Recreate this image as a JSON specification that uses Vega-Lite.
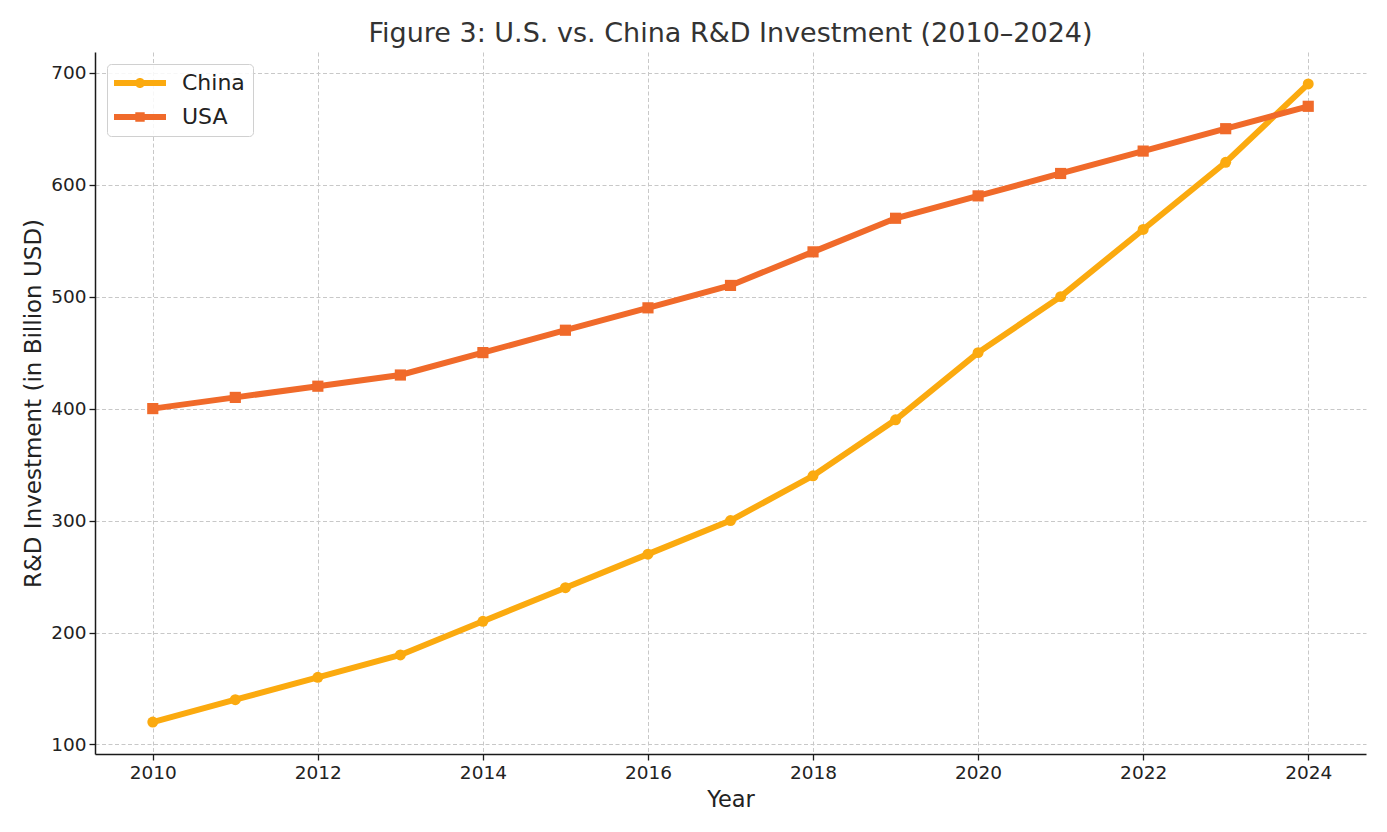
{
  "$schema": "https://vega.github.io/schema/vega-lite/v6.json",
  "autosize": {"type": "none"},
  "padding": {"left": 95, "top": 52, "right": 21, "bottom": 78},
  "width": 1271,
  "height": 702,
  "background": "white",
  "title": {
    "text": "Figure 3: U.S. vs. China R&D Investment (2010–2024)",
    "font": "DejaVu Sans",
    "fontSize": 27,
    "fontWeight": "normal",
    "color": "#333333",
    "baseline": "alphabetic",
    "offset": -17,
    "anchor": "middle"
  },
  "config": {
    "view": {"stroke": null},
    "font": "DejaVu Sans",
    "axis": {
      "domainColor": "#1a1a1a",
      "domainWidth": 1.5,
      "tickColor": "#1a1a1a",
      "tickWidth": 1.3,
      "tickSize": 6,
      "labelFont": "DejaVu Sans",
      "labelFontSize": 18.5,
      "labelColor": "#222222",
      "labelPadding": 3,
      "titleFont": "DejaVu Sans",
      "titleFontWeight": "normal",
      "titleColor": "#222222",
      "gridColor": "#c8c8c8",
      "gridWidth": 1,
      "gridDash": [4, 2.5]
    }
  },
  "data": {
    "values": [
      {"Year": 2010, "Country": "China", "Investment": 120},
      {"Year": 2011, "Country": "China", "Investment": 140},
      {"Year": 2012, "Country": "China", "Investment": 160},
      {"Year": 2013, "Country": "China", "Investment": 180},
      {"Year": 2014, "Country": "China", "Investment": 210},
      {"Year": 2015, "Country": "China", "Investment": 240},
      {"Year": 2016, "Country": "China", "Investment": 270},
      {"Year": 2017, "Country": "China", "Investment": 300},
      {"Year": 2018, "Country": "China", "Investment": 340},
      {"Year": 2019, "Country": "China", "Investment": 390},
      {"Year": 2020, "Country": "China", "Investment": 450},
      {"Year": 2021, "Country": "China", "Investment": 500},
      {"Year": 2022, "Country": "China", "Investment": 560},
      {"Year": 2023, "Country": "China", "Investment": 620},
      {"Year": 2024, "Country": "China", "Investment": 690},
      {"Year": 2010, "Country": "USA", "Investment": 400},
      {"Year": 2011, "Country": "USA", "Investment": 410},
      {"Year": 2012, "Country": "USA", "Investment": 420},
      {"Year": 2013, "Country": "USA", "Investment": 430},
      {"Year": 2014, "Country": "USA", "Investment": 450},
      {"Year": 2015, "Country": "USA", "Investment": 470},
      {"Year": 2016, "Country": "USA", "Investment": 490},
      {"Year": 2017, "Country": "USA", "Investment": 510},
      {"Year": 2018, "Country": "USA", "Investment": 540},
      {"Year": 2019, "Country": "USA", "Investment": 570},
      {"Year": 2020, "Country": "USA", "Investment": 590},
      {"Year": 2021, "Country": "USA", "Investment": 610},
      {"Year": 2022, "Country": "USA", "Investment": 630},
      {"Year": 2023, "Country": "USA", "Investment": 650},
      {"Year": 2024, "Country": "USA", "Investment": 670}
    ]
  },
  "encoding": {
    "x": {
      "field": "Year",
      "type": "quantitative",
      "scale": {"domain": [2009.3, 2024.7], "nice": false, "zero": false},
      "axis": {"values": [2010, 2012, 2014, 2016, 2018, 2020, 2022, 2024], "format": "d", "title": "Year", "titleFontSize": 22.5, "titlePadding": 7}
    },
    "y": {
      "field": "Investment",
      "type": "quantitative",
      "scale": {"domain": [91.5, 718.5], "nice": false, "zero": false},
      "axis": {"values": [100, 200, 300, 400, 500, 600, 700], "title": "R&D Investment (in Billion USD)", "titleFontSize": 23, "titlePadding": 5}
    },
    "color": {
      "field": "Country",
      "type": "nominal",
      "scale": {"domain": ["China", "USA"], "range": ["#FBAA0F", "#F06A2A"]},
      "legend": {
        "title": null,
        "orient": "none",
        "legendX": 12,
        "legendY": 12,
        "padding": 8,
        "fillColor": "rgba(255,255,255,0.85)",
        "strokeColor": "#d0d0d0",
        "cornerRadius": 4,
        "symbolSize": 400,
        "symbolStrokeWidth": 0,
        "labelFont": "DejaVu Sans",
        "labelFontSize": 22,
        "labelColor": "#222222",
        "labelOffset": 45,
        "rowPadding": 12,
        "encode": {
          "symbols": {
            "update": {
              "shape": {"signal": "datum.value === 'China' ? 'M-1.2,-0.29 H4 V0.29 H-1.2 Z M0.9,0 A0.5,0.5 0 1,1 1.9,0 A0.5,0.5 0 1,1 0.9,0 Z' : 'M-1.2,-0.29 H4 V0.29 H-1.2 Z M0.93,-0.47 H1.87 V0.47 H0.93 Z'"},
              "strokeWidth": {"value": 0},
              "opacity": {"value": 1}
            }
          }
        }
      }
    }
  },
  "layer": [
    {
      "mark": {"type": "line", "strokeWidth": 6}
    },
    {
      "transform": [{"filter": "datum.Country === 'China'"}],
      "mark": {"type": "point", "shape": "circle", "filled": true, "opacity": 1, "size": 120}
    },
    {
      "transform": [{"filter": "datum.Country === 'USA'"}],
      "mark": {"type": "point", "shape": "square", "filled": true, "opacity": 1, "size": 125}
    }
  ]
}
